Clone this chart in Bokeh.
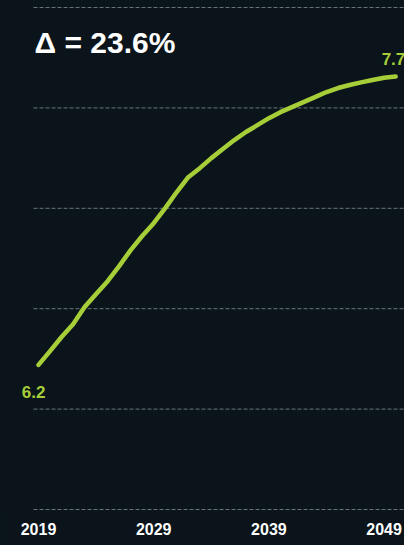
from bokeh.plotting import figure
from bokeh.models import Range1d, FixedTicker, Label
from bokeh.embed import file_html
from bokeh.resources import INLINE

years = list(range(2019, 2051))
values = [6.22, 6.289, 6.359, 6.423, 6.508, 6.573, 6.637, 6.712, 6.792, 6.862,
          6.926, 7.001, 7.081, 7.155, 7.20, 7.25, 7.295, 7.34, 7.38, 7.414,
          7.449, 7.479, 7.504, 7.529, 7.554, 7.579, 7.599, 7.614, 7.627, 7.639,
          7.650, 7.656]
x_ticks = [2019, 2029, 2039, 2049]
y_ticks = [5.5, 6.0, 6.5, 7.0, 7.5, 8.0]
title_text = "Δ = 23.6%"
start_label = "6.2"
end_label = "7.7"

BG = "#0a141a"
GREEN = "#a6ce39"
GRID = "#6b767c"
FONT = "Liberation Sans"

x_start = years[0] - 3.30
x_end = x_start + 35.07
grid_x0 = years[0] - 0.434

p = figure(frame_width=404, frame_height=512, output_backend="svg",
           toolbar_location=None,
           x_range=Range1d(x_start, x_end),
           y_range=Range1d(5.485, 8.035),
           min_border_left=0, min_border_right=0, min_border_top=0,
           min_border_bottom=30)
p.background_fill_color = BG
p.border_fill_color = BG
p.outline_line_color = None

# horizontal dashed grid lines starting at the first tick
n = len(y_ticks)
p.segment(x0=[grid_x0] * n, y0=y_ticks, x1=[x_end] * n, y1=y_ticks,
          line_color=GRID, line_width=1, line_dash="4 2")

p.line(years, values, line_color=GREEN, line_width=4.5, line_cap="round",
       line_join="round")

p.xaxis.ticker = FixedTicker(ticks=x_ticks)
p.xaxis.axis_line_color = None
p.xaxis.major_tick_line_color = None
p.xaxis.minor_tick_line_color = None
p.xaxis.major_tick_out = 0
p.xaxis.major_tick_in = 0
p.xaxis.major_label_standoff = 10
p.xaxis.major_label_text_color = "white"
p.xaxis.major_label_text_font = FONT
p.xaxis.major_label_text_font_style = "bold"
p.xaxis.major_label_text_font_size = "16px"

p.yaxis.visible = False
p.xgrid.grid_line_color = None
p.ygrid.grid_line_color = None

p.add_layout(Label(x=years[0], y=y_ticks[-1], text=title_text,
                   x_offset=-4, y_offset=-18, text_baseline="top",
                   text_align="left", text_color="white", text_font=FONT,
                   text_font_style="bold", text_font_size="30px"))
p.add_layout(Label(x=years[0], y=values[0], text=start_label,
                   x_offset=-5, y_offset=-21, text_baseline="top",
                   text_align="center", text_color=GREEN, text_font=FONT,
                   text_font_style="bold", text_font_size="17px"))
p.add_layout(Label(x=years[-1], y=values[-1], text=end_label,
                   x_offset=-14, y_offset=18, text_baseline="alphabetic",
                   text_align="left", text_color=GREEN, text_font=FONT,
                   text_font_style="bold", text_font_size="17px"))

html = file_html(p, INLINE)
html = html.replace("<head>", "<head><style>html,body{background:%s;}</style>" % BG, 1)
open("out.html", "w").write(html)
